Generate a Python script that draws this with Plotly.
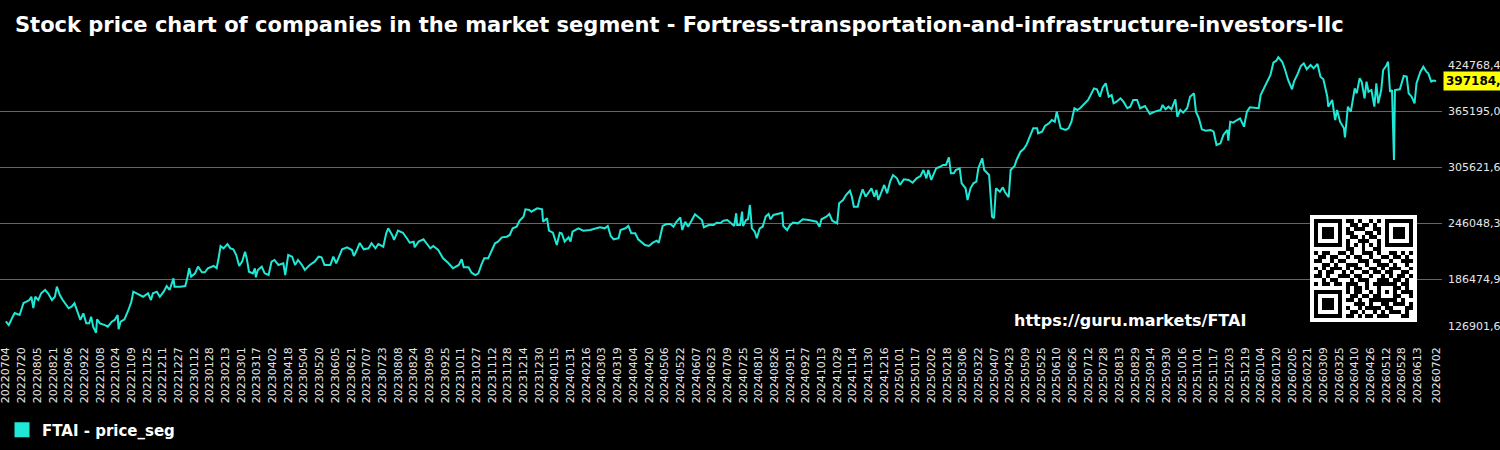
import base64
import numpy as np
import pandas as pd
import plotly.graph_objects as go

TITLE = "Stock price chart of companies in the market segment - Fortress-transportation-and-infrastructure-investors-llc"
SERIES_NAME = "FTAI - price_seg"
URL_TEXT = "https://guru.markets/FTAI"
START_DATE = "2022-07-04"
END_DATE = "2026-07-02"

# days since START_DATE for each sampled session
day_offsets = [
    0, 3, 7, 9, 14, 18, 21, 24, 26, 28, 30, 33, 36, 40, 43, 47, 50, 52, 55, 58,
    64, 67, 70, 74, 76, 79, 82, 85, 87, 89, 92, 93, 96, 101, 104, 108, 111, 114, 115, 117,
    121, 125, 128, 130, 133, 137, 140, 145, 148, 150, 154, 157, 161, 164, 167, 171, 172, 178, 183, 185,
    187, 189, 193, 196, 200, 203, 206, 212, 215, 217, 219, 222, 226, 229, 232, 235, 238, 241, 244, 246,
    248, 252, 254, 255, 257, 261, 264, 268, 271, 274, 278, 283, 285, 288, 292, 295, 298, 302, 305, 310,
    315, 319, 322, 325, 331, 334, 337, 343, 348, 353, 355, 358, 361, 365, 370, 373, 377, 380, 385, 388,
    390, 394, 396, 400, 405, 409, 412, 416, 417, 421, 426, 429, 433, 436, 441, 446, 451, 456, 462, 465,
    467, 472, 475, 479, 482, 485, 488, 492, 496, 499, 502, 506, 511, 514, 517, 521, 524, 528, 530, 534,
    536, 542, 547, 548, 552, 554, 558, 562, 565, 567, 570, 574, 576, 578, 584, 589, 596, 601, 606, 611,
    614, 617, 620, 625, 627, 632, 635, 638, 642, 645, 649, 652, 656, 660, 664, 666, 670, 674, 678, 681,
    684, 688, 690, 693, 696, 700, 703, 706, 710, 712, 717, 722, 725, 729, 732, 736, 740, 743, 745, 746,
    749, 751, 752, 755, 757, 759, 761, 764, 766, 769, 772, 775, 778, 780, 783, 788, 792, 793, 797, 800,
    803, 808, 813, 819, 824, 827, 830, 832, 837, 840, 843, 847, 848, 850, 854, 857, 861, 863, 865, 869,
    871, 874, 877, 880, 883, 886, 888, 890, 893, 896, 899, 902, 905, 909, 912, 916, 921, 925, 929, 933,
    936, 939, 941, 944, 946, 949, 953, 956, 959, 962, 964, 967, 969, 973, 975, 979, 981, 984, 987, 990,
    992, 996, 998, 1001, 1003, 1006, 1008, 1010, 1014, 1017, 1019, 1023, 1025, 1029, 1031, 1035, 1038, 1041, 1045, 1048,
    1052, 1053, 1057, 1060, 1064, 1067, 1070, 1072, 1076, 1081, 1084, 1087, 1090, 1093, 1096, 1099, 1104, 1110, 1113, 1116,
    1119, 1122, 1125, 1128, 1130, 1133, 1137, 1140, 1144, 1147, 1150, 1154, 1157, 1162, 1167, 1172, 1178, 1180, 1183, 1186,
    1189, 1193, 1195, 1198, 1201, 1205, 1208, 1212, 1214, 1217, 1220, 1224, 1229, 1232, 1235, 1239, 1242, 1246, 1247, 1249,
    1252, 1256, 1259, 1263, 1266, 1269, 1275, 1278, 1280, 1283, 1286, 1290, 1293, 1296, 1298, 1302, 1305, 1308, 1312, 1314,
    1318, 1321, 1324, 1327, 1331, 1334, 1338, 1341, 1344, 1348, 1349, 1353, 1356, 1358, 1361, 1365, 1366, 1369, 1372, 1376,
    1378, 1381, 1383, 1386, 1388, 1390, 1393, 1396, 1398, 1400, 1403, 1405, 1408, 1410, 1412, 1414, 1416, 1417, 1422, 1426,
    1429, 1431, 1434, 1437, 1439, 1443, 1446, 1449, 1451, 1454, 1456, 1459,
]

# price in thousands
price_k = [
    141.5, 137.5, 146.4, 150.3, 148.2, 160.9, 162.3, 164.1, 167.6, 155.6, 167.6, 164.1, 171.3, 174.8, 171.3, 164.1, 167.6, 178.3, 169.5, 164.1,
    155.3, 157.0, 160.6, 148.2, 142.9, 150.0, 139.3, 139.3, 146.4, 135.7, 129.3, 143.6, 139.3, 137.5, 135.7, 141.1, 142.9, 148.2, 133.0, 141.1,
    143.6, 153.5, 162.3, 173.0, 171.3, 169.5, 167.6, 171.3, 164.1, 171.3, 173.0, 167.6, 173.0, 179.0, 174.8, 187.2, 178.3, 178.3, 179.0, 187.2,
    197.9, 188.9, 192.5, 199.6, 193.6, 193.6, 197.9, 200.3, 197.9, 208.5, 221.6, 219.1, 223.7, 219.1, 218.1, 212.0, 200.3, 204.9, 215.5, 206.7,
    194.2, 192.5, 197.9, 188.3, 196.1, 199.6, 192.5, 190.7, 204.9, 206.7, 201.4, 203.2, 190.7, 212.0, 210.2, 201.4, 206.7, 201.4, 196.1, 201.4,
    204.9, 210.2, 209.6, 201.4, 201.4, 210.2, 203.2, 218.1, 220.2, 217.3, 210.9, 217.3, 224.8, 218.1, 219.1, 224.5, 219.1, 223.7, 220.8, 235.1,
    240.4, 233.3, 228.0, 237.9, 235.7, 229.8, 225.1, 226.2, 220.2, 226.2, 228.7, 224.5, 219.1, 221.6, 217.3, 208.5, 203.8, 197.9, 201.4, 207.4,
    198.9, 198.9, 193.2, 190.7, 192.5, 201.4, 208.5, 208.5, 217.3, 224.5, 226.2, 230.8, 231.5, 233.3, 240.4, 242.1, 248.5, 252.8, 260.6, 259.9,
    258.1, 261.7, 260.6, 247.4, 251.1, 237.9, 235.7, 222.6, 235.7, 235.1, 226.2, 230.8, 226.2, 236.8, 240.4, 237.9, 238.6, 240.4, 241.5, 240.4,
    242.9, 232.2, 228.7, 229.8, 238.6, 240.4, 242.9, 235.1, 235.1, 228.7, 225.1, 222.6, 221.6, 225.1, 227.2, 225.1, 242.9, 245.0, 245.0, 242.1,
    247.4, 252.1, 238.6, 247.4, 242.1, 249.2, 255.3, 252.8, 249.2, 241.5, 243.9, 243.9, 246.4, 246.1, 248.5, 249.2, 245.7, 242.9, 256.4, 243.9,
    243.9, 258.1, 242.9, 249.2, 250.0, 265.2, 240.4, 236.8, 229.8, 240.4, 242.1, 252.8, 255.6, 250.0, 254.6, 255.6, 257.0, 242.9, 238.6, 243.9,
    246.4, 245.7, 250.0, 249.2, 248.5, 247.4, 242.1, 250.0, 252.8, 255.6, 248.5, 245.7, 245.7, 267.0, 270.5, 275.8, 280.4, 274.0, 263.4, 263.4,
    272.3, 281.9, 274.0, 278.3, 283.0, 274.0, 281.2, 270.5, 279.3, 286.5, 277.6, 290.0, 297.1, 293.6, 286.5, 292.5, 291.8, 288.9, 293.6, 296.0,
    302.4, 293.6, 302.4, 291.8, 297.1, 304.2, 305.9, 307.8, 307.8, 315.9, 298.9, 298.9, 302.4, 304.2, 288.3, 283.0, 270.5, 283.0, 288.3, 290.0,
    304.2, 314.9, 302.4, 299.6, 297.1, 252.8, 251.1, 283.0, 279.3, 284.0, 279.3, 273.4, 302.4, 306.7, 313.1, 321.9, 324.5, 329.0, 339.7, 346.8,
    346.8, 341.5, 343.2, 349.2, 352.1, 355.6, 353.8, 364.5, 346.8, 345.0, 346.8, 353.8, 368.1, 366.3, 368.4, 371.6, 376.9, 389.3, 388.3, 380.4,
    390.4, 394.7, 380.4, 382.2, 373.4, 375.1, 378.7, 375.1, 368.1, 369.8, 376.9, 376.9, 368.1, 370.5, 362.0, 364.5, 366.3, 371.6, 367.0, 369.8,
    367.0, 377.6, 359.1, 366.3, 363.4, 368.1, 380.4, 384.0, 364.5, 357.4, 345.7, 344.2, 345.0, 343.2, 329.0, 330.8, 339.7, 345.0, 333.6, 353.8,
    352.8, 355.6, 357.4, 348.5, 364.5, 369.1, 368.1, 368.1, 382.2, 388.3, 394.7, 403.5, 416.6, 418.7, 422.3, 417.6, 408.8, 398.2, 388.3, 396.4,
    405.3, 413.1, 415.9, 409.6, 414.1, 410.6, 415.2, 401.7, 398.9, 380.4, 369.8, 376.9, 355.6, 366.3, 353.8, 346.8, 337.2, 369.8, 364.5, 389.3,
    384.0, 400.0, 396.4, 378.7, 396.4, 385.7, 387.5, 369.8, 394.7, 373.4, 387.5, 408.8, 413.1, 417.6, 385.7, 387.5, 313.1, 387.5, 388.3, 402.4,
    401.7, 384.0, 380.4, 373.4, 394.7, 407.0, 412.3, 407.0, 405.3, 396.4, 397.5, 397.1842,
]

y_range = [126901.60, 424768.40]
y_tick_values = [126901.60, 186474.96, 246048.32, 305621.68, 365195.04, 424768.40]
y_tick_labels = ["126901,60", "186474,96", "246048,32", "305621,68", "365195,04", "424768,40"]
last_price_label = "397184,20"

x_tick_dates = list(pd.date_range(START_DATE, "2026-06-13", freq="16D")) + [pd.Timestamp(END_DATE)]
x_tick_labels = [d.strftime("%Y%m%d") for d in x_tick_dates]

qr_rows = [
    "1111111011010010101111111",
    "1000001001101101001000001",
    "1011101010111001101011101",
    "1011101011000110101011101",
    "1011101001101011001011101",
    "1000001010011100101000001",
    "1111111010101010101111111",
    "0000000011001001100000000",
    "1011001101001110100110101",
    "0110110010110010011011010",
    "1100101100011101100100111",
    "0011010011100100111010010",
    "1010111010110011010111001",
    "0101100101001101101100110",
    "1101001110110010010101101",
    "0010110001011100111011010",
    "1011011011100101111110110",
    "0000000010110100100011010",
    "1111111010110010101010111",
    "1000001001101101100011001",
    "1011101011010011111110100",
    "1011101000111010011011101",
    "1011101010010111101100011",
    "1000001001101001010111010",
    "1111111011010110111000110",
]

LINE_COLOR = "#1FE8D6"
FONT = "DejaVu Sans"

dates = pd.Timestamp(START_DATE) + pd.to_timedelta(day_offsets, unit="D")
prices = [v * 1000 for v in price_k]

fig = go.Figure()
fig.add_trace(go.Scatter(
    x=dates, y=prices, mode="lines", line=dict(color=LINE_COLOR, width=2),
    showlegend=False, hoverinfo="skip",
))
fig.add_trace(go.Scatter(
    x=[None], y=[None], mode="markers", name=SERIES_NAME,
    marker=dict(symbol="square", size=15, color=LINE_COLOR),
))

# plot area geometry (px)
W, H = 1500, 450
ML, MR, MT, MB = 0, 58, 55, 115
PW, PH = W - ML - MR, H - MT - MB

annotations = []
for v, t in zip(y_tick_values, y_tick_labels):
    shift = 0
    if v == y_tick_values[-1]:
        shift = -10
    elif v == y_tick_values[0]:
        shift = 9
    annotations.append(dict(
        x=1, xref="paper", y=v, yref="y", text=t, showarrow=False,
        xanchor="left", yanchor="middle", xshift=4, yshift=shift,
        font=dict(family=FONT, size=11, color="#e6e6e6"),
    ))
annotations.append(dict(
    x=1, xref="paper", y=prices[-1], yref="y", text="<b>" + last_price_label + "</b>",
    showarrow=False, xanchor="left", yanchor="middle", xshift=1,
    bgcolor="#ffff00", borderpad=2, font=dict(family=FONT, size=12, color="#000000"),
))
annotations.append(dict(
    x=(1130 - ML) / PW, xref="paper", y=(MT + PH - 320) / PH, yref="paper",
    text="<b>" + URL_TEXT + "</b>", showarrow=False, xanchor="center", yanchor="middle",
    font=dict(family=FONT, size=16, color="#ffffff"),
))

rects = "".join(
    f'<rect x="{c + 1}" y="{r + 1}" width="1" height="1"/>'
    for r, row in enumerate(qr_rows) for c, ch in enumerate(row) if ch == "1"
)
svg = (
    '<svg xmlns="http://www.w3.org/2000/svg" viewBox="0 0 27 27" width="270" height="270" '
    'shape-rendering="crispEdges"><rect width="27" height="27" fill="#ffffff"/>'
    f'<g fill="#000000">{rects}</g></svg>'
)
qr_src = "data:image/svg+xml;base64," + base64.b64encode(svg.encode()).decode()

fig.update_layout(
    width=W, height=H,
    margin=dict(l=ML, r=MR, t=MT, b=MB),
    paper_bgcolor="#000000", plot_bgcolor="#000000",
    font=dict(family=FONT, color="#ffffff"),
    title=dict(
        text=TITLE, x=15 / W, xanchor="left", xref="container",
        y=1 - 25 / H, yanchor="middle", yref="container",
        font=dict(family=FONT, size=21, color="#ffffff", weight="bold"),
    ),
    xaxis=dict(
        type="date", range=["2022-06-28", "2026-07-08"], showgrid=False, zeroline=False,
        tickmode="array", tickvals=x_tick_dates, ticktext=x_tick_labels, tickangle=-90,
        ticks="", ticklabelstandoff=9, ticklabeloverflow="allow",
        tickfont=dict(family=FONT, size=11, color="#e6e6e6"), showline=False,
    ),
    yaxis=dict(
        side="right", range=y_range, tickmode="array", tickvals=y_tick_values,
        showticklabels=False, ticks="", showgrid=True, gridcolor="#666666", gridwidth=1,
        zeroline=False, showline=False,
    ),
    legend=dict(
        orientation="h", x=2 / PW, xanchor="left", y=(MT + PH - 430) / PH, yanchor="middle",
        font=dict(family=FONT, size=15, color="#ffffff", weight="bold"),
        bgcolor="rgba(0,0,0,0)",
    ),
    annotations=annotations,
    images=[dict(
        source=qr_src, xref="paper", yref="paper",
        x=(1310 - ML) / PW, y=(MT + PH - 215) / PH, sizex=107 / PW, sizey=107 / PH,
        xanchor="left", yanchor="top", sizing="stretch", layer="above",
    )],
    showlegend=True,
)

fig.write_html("out.html")
